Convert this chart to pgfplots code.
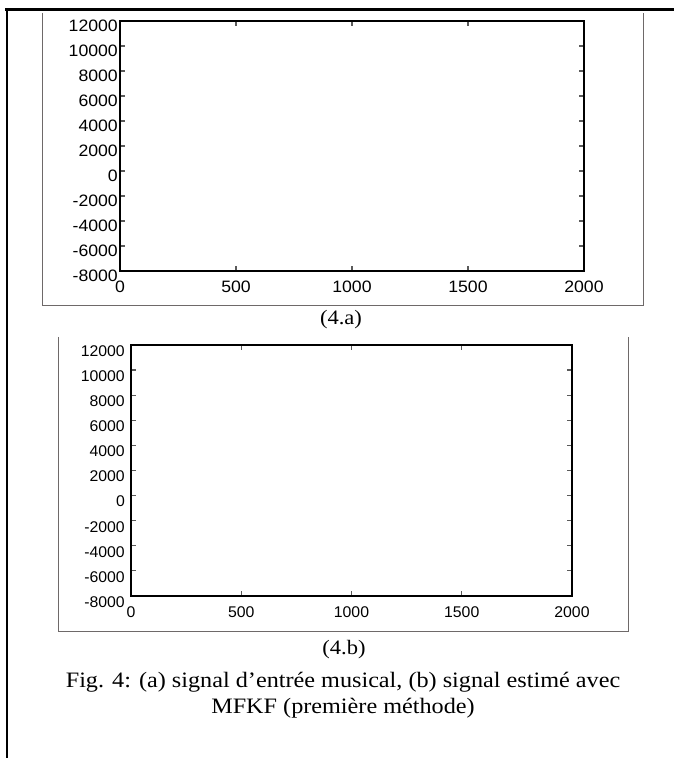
\documentclass[border=0pt]{standalone}
\usepackage{fontspec}
\usepackage{pgfplots}
\pgfplotsset{compat=1.18}
\setmainfont{Liberation Serif}[FakeStretch=1.1]
\newfontfamily\tickA{Liberation Sans}[FakeStretch=1.07]
\newfontfamily\tickB{Liberation Sans}[FakeStretch=1.02]
\definecolor{boxgray}{RGB}{110,105,105}
\definecolor{tickgray}{RGB}{90,90,90}
\pgfplotsset{
  mystyle/.style={
    scale only axis,
    xmin=0, xmax=2000, ymin=-8000, ymax=12000,
    xtick={0,500,1000,1500,2000},
    ytick={-8000,-6000,-4000,-2000,0,2000,4000,6000,8000,10000,12000},
    tick align=inside,
    major tick length=5pt,
    axis line style={line width=1.6pt, black},
    every tick/.style={tickgray, line width=1.2pt},
    scaled ticks=false,
    /pgf/number format/assume math mode=true,
    /pgf/number format/1000 sep={},
    axis background/.style={fill=white},
  }
}
\begin{document}
\begin{tikzpicture}[x=1pt,y=1pt]
\useasboundingbox (0,0) rectangle (674,758);
% outer frame
\draw[line width=3pt] (5,748) -- (674,748);
\draw[line width=2.5pt] (7,749.5) -- (7,0);
% gray boxes
\draw[boxgray, line width=1pt] (42,745) -- (42,452) -- (643,452) -- (643,745);
\draw[boxgray, line width=1pt] (58,421) -- (58,126) -- (628,126) -- (628,421);

\begin{axis}[mystyle,
  at={(120pt,487pt)}, anchor=south west,
  width=464pt, height=250pt,
  yticklabel style={font=\tickA\fontsize{16.5}{17}\selectfont, inner sep=0pt, anchor=east, xshift=-2pt, yshift=-5pt},
  xticklabel style={font=\tickA\fontsize{16.5}{17}\selectfont, inner sep=0pt, anchor=center, yshift=-16pt},
]
\end{axis}

\begin{axis}[mystyle,
  at={(131pt,162pt)}, anchor=south west,
  width=441pt, height=251pt,
  yticklabel style={font=\tickB\fontsize{15.5}{16}\selectfont, inner sep=0pt, anchor=east, xshift=-6pt, yshift=-6pt},
  xticklabel style={font=\tickB\fontsize{15.5}{16}\selectfont, inner sep=0pt, anchor=center, yshift=-16pt},
]
\end{axis}

\node[font=\fontsize{20.5}{22}\selectfont, inner sep=0pt] at (341,438) {(4.a)};
\node[font=\fontsize{20.5}{22}\selectfont, inner sep=0pt] at (344,108) {(4.b)};
\node[font=\fontsize{22}{24}\selectfont, inner sep=0pt] at (343,76) {Fig. 4: (a) signal d’entrée musical, (b) signal estimé avec};
\node[font=\fontsize{22}{24}\selectfont, inner sep=0pt] at (343,50) {MFKF (première méthode)};
\end{tikzpicture}
\end{document}
